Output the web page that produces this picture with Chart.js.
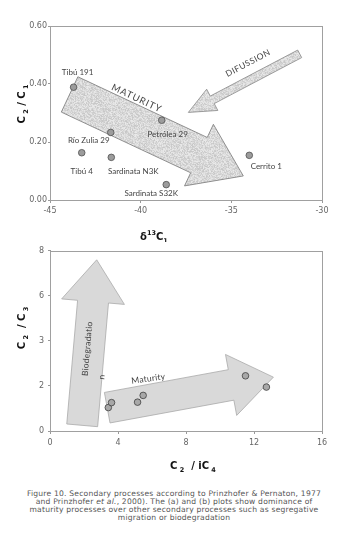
<!DOCTYPE html>
<html>
<head>
<meta charset="utf-8">
<script src="https://cdn.jsdelivr.net/npm/chart.js@4.4.0/dist/chart.umd.min.js"></script>
<style>
  body { margin: 0; background: #fff; width: 348px; height: 556px; position: relative; overflow: hidden; }
  #chartA { position: absolute; left: 0; top: 0; }
  #chartB { position: absolute; left: 0; top: 242px; }
  #caption { position: absolute; left: 0; top: 490px; width: 348px; text-align: center;
             font-family: 'DejaVu Sans', sans-serif; font-size: 7.6px; letter-spacing: 0.2px;
             line-height: 8px; color: #555; }
</style>
</head>
<body>
<canvas id="chartA" width="348" height="242"></canvas>
<canvas id="chartB" width="348" height="240"></canvas>
<div id="caption">Figure 10. Secondary processes according to Prinzhofer &amp; Pernaton, 1977<br>and Prinzhofer <i>et al.</i>, 2000). The (a) and (b) plots show dominance of<br>maturity processes over other secondary processes such as segregative<br>migration or biodegradation</div>
<script>
// (a) d13C1 vs C2/C1
const wellNames = ['Tibú 191', 'Petrólea 29', 'Río Zulia 29', 'Tibú 4', 'Sardinata N3K', 'Sardinata S32K', 'Cerrito 1'];
const delta13C1 = [-43.7, -38.84, -41.65, -43.25, -41.62, -38.59, -34.01];
const c2c1 = [0.389, 0.275, 0.233, 0.163, 0.147, 0.053, 0.154];
const topXTicks = [-45, -40, -35, -30];
const topYTicks = [0, 0.2, 0.4, 0.6];

// (b) C2/iC4 vs C2/C3
const c2iC4 = [3.43, 3.62, 5.15, 5.48, 11.5, 12.73];
const c2c3 = [1.04, 1.26, 1.28, 1.58, 2.45, 1.95];
const bottomXTicks = [0, 4, 8, 12, 16];
const bottomYTicks = [0, 2, 4, 6, 8];
const bottomYTickLabels = ['0', '2', '3', '6', '8'];

// process arrows (tail -> tip, data units)
const maturityArrowA = { from: [-43.92, 0.364], to: [-34.34, 0.083] };
const difussionArrow = { from: [-31.23, 0.504], to: [-37.37, 0.302] };
const biodegArrow = { from: [1.894, 0.251], to: [2.747, 7.60] };
const maturityArrowB = { from: [3.365, 1.035], to: [13.14, 2.39] };

// label offsets from each point, px
const labelOffsets = [[4, -15], [6, 14], [-22, 8], [0, 19], [22, 14], [-15, 9], [17, 11]];

const grayText = '#444';

// speckled texture for the top arrows
function speckle() {
    const c = document.createElement('canvas');
    c.width = 48; c.height = 48;
    const g = c.getContext('2d');
    const img = g.createImageData(48, 48);
    for (let j = 0; j < 48; j++) {
        for (let i = 0; i < 48; i++) {
            const h = Math.sin(i * 12.9898 + j * 78.233) * 43758.5453;
            const f = h - Math.floor(h);
            const v = Math.round(198 + f * 36);
            const k = (j * 48 + i) * 4;
            img.data[k] = v; img.data[k + 1] = v; img.data[k + 2] = v; img.data[k + 3] = 255;
        }
    }
    g.putImageData(img, 0, 0);
    return c;
}

function arrowPoints(x0, y0, x1, y1, shaft, headW, headL) {
    const len = Math.hypot(x1 - x0, y1 - y0);
    const ux = (x1 - x0) / len, uy = (y1 - y0) / len;
    const nx = -uy, ny = ux;
    const bx = x1 - ux * headL, by = y1 - uy * headL;
    return [
        [x0 + nx * shaft / 2, y0 + ny * shaft / 2],
        [bx + nx * shaft / 2, by + ny * shaft / 2],
        [bx + nx * headW / 2, by + ny * headW / 2],
        [x1, y1],
        [bx - nx * headW / 2, by - ny * headW / 2],
        [bx - nx * shaft / 2, by - ny * shaft / 2],
        [x0 - nx * shaft / 2, y0 - ny * shaft / 2]
    ];
}

function drawArrow(chart, arrow, shaft, headW, headL, fill, stroke) {
    const { ctx, scales: { x, y } } = chart;
    const pts = arrowPoints(
        x.getPixelForValue(arrow.from[0]), y.getPixelForValue(arrow.from[1]),
        x.getPixelForValue(arrow.to[0]), y.getPixelForValue(arrow.to[1]),
        shaft, headW, headL);
    ctx.save();
    ctx.beginPath();
    pts.forEach((p, i) => i ? ctx.lineTo(p[0], p[1]) : ctx.moveTo(p[0], p[1]));
    ctx.closePath();
    ctx.fillStyle = fill;
    ctx.fill();
    ctx.strokeStyle = stroke;
    ctx.lineWidth = 0.8;
    ctx.stroke();
    ctx.restore();
}

function arrowAngle(chart, arrow) {
    const { scales: { x, y } } = chart;
    return Math.atan2(y.getPixelForValue(arrow.to[1]) - y.getPixelForValue(arrow.from[1]),
                      x.getPixelForValue(arrow.to[0]) - x.getPixelForValue(arrow.from[0]));
}

function textAt(chart, txt, dx, dy, angle, font, spacing) {
    const { ctx, scales: { x, y } } = chart;
    ctx.save();
    ctx.translate(x.getPixelForValue(dx), y.getPixelForValue(dy));
    ctx.rotate(angle);
    ctx.font = font;
    ctx.fillStyle = grayText;
    ctx.textAlign = 'center';
    ctx.textBaseline = 'middle';
    if (spacing) ctx.letterSpacing = spacing;
    ctx.fillText(txt, 0, 0);
    ctx.restore();
}

// text with sub/superscripts: parts = [[text, 'n'|'sub'|'sup'], ...]
function richText(ctx, parts, cx, cy, rot) {
    const big = 'bold 10px "DejaVu Sans"', small = 'bold 6.5px "DejaVu Sans"';
    let w = 0;
    parts.forEach(p => { ctx.font = p[1] === 'n' ? big : small; w += ctx.measureText(p[0]).width; });
    ctx.save();
    ctx.translate(cx, cy);
    ctx.rotate(rot);
    ctx.fillStyle = '#111';
    ctx.textBaseline = 'alphabetic';
    let px = -w / 2;
    parts.forEach(p => {
        ctx.font = p[1] === 'n' ? big : small;
        const off = p[1] === 'sub' ? 3 : p[1] === 'sup' ? -5 : 0;
        ctx.fillText(p[0], px, 4 + off);
        px += ctx.measureText(p[0]).width;
    });
    ctx.restore();
}

function drawFrame(chart) {
    const { ctx, chartArea: a } = chart;
    ctx.save();
    ctx.strokeStyle = '#a0a0a0';
    ctx.lineWidth = 1;
    ctx.strokeRect(Math.round(a.left) + 0.5, Math.round(a.top) + 0.5, Math.round(a.right - a.left), Math.round(a.bottom - a.top));
    ctx.restore();
}

function axisOpts(min, max, tickVals, labelFn, tickLen, pad, fit) {
    return {
        type: 'linear', min: min, max: max,
        afterBuildTicks: ax => { ax.ticks = tickVals.map(v => ({ value: v })); },
        grid: { display: true, drawOnChartArea: false, tickLength: tickLen, color: '#999' },
        border: { color: '#999' },
        ticks: { font: { size: 8, family: '"DejaVu Sans"' }, color: '#666', padding: pad, callback: labelFn },
        afterFit: fit
    };
}

const pattern = document.getElementById('chartA').getContext('2d').createPattern(speckle(), 'repeat');

new Chart(document.getElementById('chartA'), {
    type: 'scatter',
    data: {
        datasets: [{
            data: delta13C1.map((v, i) => ({ x: v, y: c2c1[i] })),
            pointRadius: 3.3,
            backgroundColor: '#9c9c9c',
            borderColor: '#505050',
            borderWidth: 0.8
        }]
    },
    options: {
        responsive: false,
        animation: false,
        devicePixelRatio: 1,
        layout: { padding: { top: 26, right: 26, left: 0, bottom: 0 } },
        plugins: { legend: { display: false }, tooltip: { enabled: false } },
        scales: {
            x: axisOpts(-45, -30, topXTicks, v => String(v), 3, 3, s => { s.height = 42; }),
            y: axisOpts(0, 0.6, topYTicks, v => v.toFixed(2), 2, 1, s => { s.width = 50; })
        }
    },
    plugins: [{
        id: 'decorA',
        beforeDatasetsDraw(chart) {
            drawFrame(chart);
            drawArrow(chart, maturityArrowA, 39, 68, 49, pattern, '#777');
            drawArrow(chart, difussionArrow, 8.5, 24, 27, pattern, '#888');
            textAt(chart, 'MATURITY', -40.22, 0.351, arrowAngle(chart, maturityArrowA), '9.5px Lato', '0.9px');
            textAt(chart, 'DIFUSSION', -34.08, 0.472, arrowAngle(chart, difussionArrow) + Math.PI, '8.5px Lato', '0.5px');
        },
        afterDatasetsDraw(chart) {
            const { ctx } = chart;
            const meta = chart.getDatasetMeta(0);
            ctx.save();
            ctx.font = '8px Lato';
            ctx.fillStyle = grayText;
            ctx.textAlign = 'center';
            ctx.textBaseline = 'middle';
            meta.data.forEach((pt, i) => {
                ctx.fillText(wellNames[i], pt.x + labelOffsets[i][0], pt.y + labelOffsets[i][1]);
            });
            ctx.restore();
            richText(ctx, [['δ', 'n'], ['13', 'sup'], ['C', 'n'], ['1', 'sub']], 154, 236, 0);
            richText(ctx, [['C', 'n'], [' 2', 'sub'], [' / C', 'n'], [' 1', 'sub']], 21, 104, -Math.PI / 2);
        }
    }]
});

new Chart(document.getElementById('chartB'), {
    type: 'scatter',
    data: {
        datasets: [{
            data: c2iC4.map((v, i) => ({ x: v, y: c2c3[i] })),
            pointRadius: 3.3,
            backgroundColor: '#a8a8a8',
            borderColor: '#404040',
            borderWidth: 0.8
        }]
    },
    options: {
        responsive: false,
        animation: false,
        devicePixelRatio: 1,
        layout: { padding: { top: 7.5, right: 26, left: 0, bottom: 0 } },
        plugins: { legend: { display: false }, tooltip: { enabled: false } },
        scales: {
            x: axisOpts(0, 16, bottomXTicks, v => String(v), 3, 4, s => { s.height = 51; }),
            y: axisOpts(0, 8, bottomYTicks, v => bottomYTickLabels[bottomYTicks.indexOf(v)], 2, 4, s => { s.width = 50; })
        }
    },
    plugins: [{
        id: 'decorB',
        beforeDatasetsDraw(chart) {
            drawFrame(chart);
            drawArrow(chart, biodegArrow, 31, 63, 42, '#d9d9d9', '#aaa');
            drawArrow(chart, maturityArrowB, 31, 62, 43, '#d9d9d9', '#aaa');
            const biodegAngle = arrowAngle(chart, biodegArrow);
            textAt(chart, 'Biodegradatio', 2.194, 3.65, biodegAngle, '8.5px Lato', '0.2px');
            textAt(chart, 'n', 3.04, 2.39, biodegAngle, '8.5px Lato');
            textAt(chart, 'Maturity', 5.78, 2.32, arrowAngle(chart, maturityArrowB) + 0.04, '8.5px Lato', '0.2px');
        },
        afterDatasetsDraw(chart) {
            const { ctx } = chart;
            richText(ctx, [['C', 'n'], [' 2', 'sub'], ['  / iC', 'n'], [' 4', 'sub']], 193, 223, 0);
            richText(ctx, [['C', 'n'], [' 2', 'sub'], ['  / C', 'n'], [' 3', 'sub']], 21, 86, -Math.PI / 2);
        }
    }]
});
</script>
</body>
</html>
